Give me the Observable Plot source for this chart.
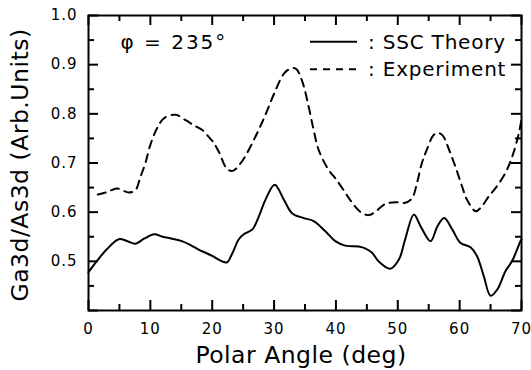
<!DOCTYPE html>
<html>
<head>
<meta charset="utf-8">
<script src="https://cdn.jsdelivr.net/npm/d3@7"></script>
<script src="https://cdn.jsdelivr.net/npm/@observablehq/plot@0.6"></script>
<style>
  body { margin: 0; background: #fff; }
</style>
</head>
<body>
<div id="chart"></div>
<script>
// ---- Data ----
const theoryAngle = [0, 1.5, 3, 4.9, 6.3, 7.6, 9, 10.6, 12, 13.5, 15.1, 16.5, 17.8, 19, 20, 21.6, 22.4, 23.2, 24.3, 25.1, 26.5, 27.5, 28.6, 30.1, 31.6, 32.9, 34.8, 36.4, 38.3, 39.9, 41.5, 43.7, 44.8, 45.8, 46.9, 48.8, 50.2, 51.2, 52.6, 53.7, 55.3, 56.4, 57.5, 58.8, 60.1, 61.8, 62.8, 63.9, 65, 66.1, 67.4, 68.5, 69.8, 70];
const theoryValue = [0.478, 0.503, 0.525, 0.545, 0.541, 0.536, 0.546, 0.555, 0.550, 0.546, 0.541, 0.533, 0.524, 0.517, 0.511, 0.500, 0.498, 0.515, 0.545, 0.555, 0.565, 0.590, 0.625, 0.656, 0.625, 0.598, 0.588, 0.582, 0.561, 0.541, 0.532, 0.530, 0.526, 0.518, 0.500, 0.485, 0.504, 0.545, 0.595, 0.571, 0.541, 0.571, 0.588, 0.565, 0.538, 0.528, 0.511, 0.470, 0.430, 0.443, 0.480, 0.501, 0.540, 0.545];

const expAngle = [1.5, 3, 4.6, 6.5, 7.6, 8.4, 9.2, 10, 11.1, 12.2, 14.1, 15.7, 17, 18.4, 19.5, 20.3, 21.1, 22.4, 23.3, 24.8, 27, 28.6, 30, 31.6, 32.5, 33.5, 34.5, 35.6, 36.4, 37.2, 38.8, 39.9, 41.5, 42.4, 44, 45.3, 46.5, 48, 50, 51.2, 52.3, 53.1, 53.9, 54.7, 55.8, 56.6, 57.3, 58.2, 59.3, 60.4, 61.2, 62.6, 63.6, 64.7, 65.8, 67.4, 68.5, 69.6, 70];
const expValue = [0.636, 0.641, 0.648, 0.640, 0.645, 0.672, 0.700, 0.737, 0.771, 0.791, 0.798, 0.787, 0.777, 0.767, 0.752, 0.740, 0.722, 0.688, 0.684, 0.703, 0.754, 0.798, 0.841, 0.882, 0.891, 0.892, 0.868, 0.814, 0.767, 0.727, 0.686, 0.669, 0.640, 0.623, 0.600, 0.594, 0.602, 0.617, 0.620, 0.619, 0.628, 0.659, 0.700, 0.727, 0.757, 0.761, 0.755, 0.730, 0.693, 0.652, 0.625, 0.602, 0.612, 0.632, 0.649, 0.680, 0.713, 0.762, 0.790];

const xMajor = [0, 10, 20, 30, 40, 50, 60, 70];
const xMinor = [5, 15, 25, 35, 45, 55, 65];
const yMajor = [0.4, 0.5, 0.6, 0.7, 0.8, 0.9, 1.0];
const yLabeled = [0.5, 0.6, 0.7, 0.8, 0.9, 1.0];
const yMinor = [0.45, 0.55, 0.65, 0.75, 0.85, 0.95];

const seriesNames = ["SSC Theory", "Experiment"];
const xTitle = "Polar Angle (deg)";
const yTitle = "Ga3d/As3d (Arb.Units)";
const annotation = "φ = 235°";

const theory = theoryAngle.map((a, i) => ({angle: a, value: theoryValue[i]}));
const experiment = expAngle.map((a, i) => ({angle: a, value: expValue[i]}));

const FONT = "DejaVu Sans";
const W = 531, H = 370, ML = 88, MR = 10, MT = 15, MB = 60;
const innerW = W - ML - MR, innerH = H - MT - MB;
const majorLen = 10, minorLen = 6;
const tickStyle = {stroke: "#000", strokeWidth: 2};

const chart = Plot.plot({
  width: W,
  height: H,
  marginLeft: ML,
  marginRight: MR,
  marginTop: MT,
  marginBottom: MB,
  style: {fontFamily: FONT, fontSize: "15px"},
  x: {domain: [0, 70]},
  y: {domain: [0.4, 1.0]},
  marks: [
    // tick labels
    Plot.axisX({ticks: xMajor, tickSize: 0, tickPadding: 13, tickFormat: d => String(d), label: null, fontSize: 15}),
    Plot.axisY({ticks: yLabeled, tickSize: 0, tickPadding: 11, tickFormat: d3.format(".1f"), label: null, fontSize: 15}),
    // data
    Plot.line(experiment, {x: "angle", y: "value", stroke: "#000", strokeWidth: 2, strokeDasharray: "8,6", curve: "catmull-rom"}),
    Plot.line(theory, {x: "angle", y: "value", stroke: "#000", strokeWidth: 2, curve: "catmull-rom"}),
    Plot.frame({stroke: "#000", strokeWidth: 2}),
    // inward ticks on all four sides
    Plot.tickX(xMajor, {x: d => d, insetTop: innerH - majorLen, ...tickStyle}),
    Plot.tickX(xMinor, {x: d => d, insetTop: innerH - minorLen, ...tickStyle}),
    Plot.tickX(xMajor, {x: d => d, insetBottom: innerH - majorLen, ...tickStyle}),
    Plot.tickX(xMinor, {x: d => d, insetBottom: innerH - minorLen, ...tickStyle}),
    Plot.tickY(yMajor, {y: d => d, insetRight: innerW - majorLen, ...tickStyle}),
    Plot.tickY(yMinor, {y: d => d, insetRight: innerW - minorLen, ...tickStyle}),
    Plot.tickY(yMajor, {y: d => d, insetLeft: innerW - majorLen, ...tickStyle}),
    Plot.tickY(yMinor, {y: d => d, insetLeft: innerW - minorLen, ...tickStyle}),
    // axis titles & annotation
    Plot.text([xTitle], {text: d => d, frameAnchor: "bottom", dx: -4, dy: 45, fontSize: 23.5, textAnchor: "middle", lineAnchor: "middle", fill: "#000"}),
    Plot.text([yTitle], {text: d => d, frameAnchor: "left", dx: -68, dy: 2, rotate: -90, fontSize: 23.5, textAnchor: "middle", lineAnchor: "middle", fill: "#000"}),
    Plot.text([annotation], {text: d => d, frameAnchor: "top-left", dx: 32, dy: 27, fontSize: 20, textAnchor: "start", lineAnchor: "middle", fill: "#000"})
  ]
});

const svg = d3.select(chart);
svg.selectAll('g[aria-label="x-axis tick label"] text, g[aria-label="y-axis tick label"] text').style("letter-spacing", "1px");
svg.selectAll('g[aria-label="text"] text').style("letter-spacing", "0.5px");
svg.selectAll('g[aria-label="text"] text').filter(function() { return this.textContent === annotation; }).style("letter-spacing", "2px");

// legend (inside the frame, upper right)
const legend = svg.append("g")
  .attr("font-family", FONT).attr("font-size", 20).attr("fill", "#000").attr("text-anchor", "start")
  .style("letter-spacing", "0.8px");
const dashes = [null, "7,6"];
const rowY = [41.7, 69.3];
seriesNames.forEach((name, i) => {
  const line = legend.append("line")
    .attr("x1", 310).attr("x2", 357).attr("y1", rowY[i]).attr("y2", rowY[i])
    .attr("stroke", "#000").attr("stroke-width", 2);
  if (dashes[i]) line.attr("stroke-dasharray", dashes[i]);
  legend.append("text").attr("x", 368).attr("y", rowY[i]).attr("dy", "0.35em").text(": " + name);
});

document.getElementById("chart").appendChild(chart);
</script>
</body>
</html>
